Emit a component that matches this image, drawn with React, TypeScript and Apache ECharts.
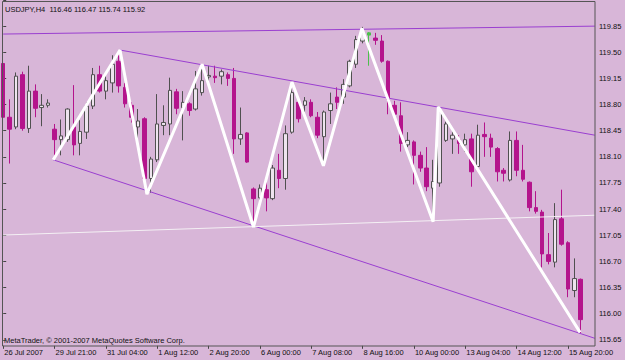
import React, { useEffect, useRef } from 'react';
import * as echarts from 'echarts';

const symbol = 'USDJPY';
const period = 'H4';
const copyright = 'MetaTrader, © 2001-2007 MetaQuotes Software Corp.';
const tickLabels = ['26 Jul 2007', '29 Jul 21:00', '31 Jul 04:00', '1 Aug 12:00', '2 Aug 20:00', '6 Aug 00:00', '7 Aug 08:00', '8 Aug 16:00', '10 Aug 00:00', '13 Aug 04:00', '14 Aug 12:00', '15 Aug 20:00'];
const barsPerLabel = 8;
const emptySlots = 2;

const opens = [119.35, 118.63, 118.50, 119.20, 118.48, 118.98, 118.76, 118.79, 118.47, 118.33, 118.33, 118.50, 118.28, 118.43, 118.78, 119.20, 118.98, 119.09, 119.38, 119.03, 118.79, 118.50, 118.61, 117.81, 118.06, 118.52, 118.54, 118.97, 118.76, 118.81, 118.74, 118.96, 119.17, 119.18, 119.18, 119.20, 119.15, 118.34, 118.42, 117.67, 117.55, 117.66, 117.54, 117.92, 117.81, 118.43, 118.83, 118.79, 118.83, 118.63, 118.37, 118.72, 118.90, 118.90, 119.05, 119.34, 119.65, 119.76, 119.69, 119.65, 119.38, 118.79, 118.65, 118.26, 118.30, 118.12, 117.95, 117.68, 117.75, 118.32, 118.34, 118.33, 118.26, 118.34, 117.97, 118.40, 118.35, 118.21, 117.92, 117.79, 118.32, 117.92, 117.76, 117.42, 117.36, 116.79, 116.69, 117.27, 116.95, 116.31, 116.46];
const closes = [118.63, 118.47, 119.18, 118.48, 118.98, 118.75, 118.79, 118.82, 118.33, 118.38, 118.74, 118.26, 118.44, 118.78, 119.20, 118.98, 119.12, 119.34, 119.05, 118.81, 118.63, 118.58, 117.81, 118.07, 118.54, 118.56, 118.99, 118.75, 118.83, 118.72, 119.01, 119.12, 119.19, 119.16, 119.24, 119.15, 118.34, 118.40, 118.03, 117.54, 117.68, 117.55, 117.95, 117.81, 118.41, 118.96, 118.61, 118.85, 118.65, 118.39, 118.70, 118.81, 118.83, 119.07, 119.38, 119.67, 119.76, 119.73, 119.66, 119.38, 118.87, 118.67, 118.28, 118.32, 118.12, 117.95, 117.70, 117.77, 118.72, 118.54, 118.39, 118.28, 118.33, 117.90, 118.39, 118.37, 118.23, 117.90, 117.88, 118.32, 117.92, 117.80, 117.42, 117.37, 116.80, 116.70, 117.26, 116.93, 116.33, 116.47, 115.92];
const lows = [118.56, 118.01, 118.47, 118.45, 118.42, 118.63, 118.51, 118.76, 118.06, 118.12, 118.30, 118.12, 118.12, 118.34, 118.74, 118.96, 118.87, 118.96, 118.96, 118.76, 118.56, 118.30, 117.73, 117.62, 118.03, 118.39, 118.39, 118.67, 118.32, 118.65, 118.72, 118.92, 119.09, 119.09, 119.07, 119.05, 118.14, 118.26, 118.02, 117.16, 117.50, 117.37, 117.52, 117.68, 117.66, 118.41, 118.56, 118.70, 118.63, 118.35, 117.98, 118.54, 118.74, 118.81, 119.03, 119.29, 119.62, 119.32, 119.60, 119.36, 118.67, 118.63, 118.17, 118.23, 117.73, 117.90, 117.64, 117.24, 117.70, 118.30, 118.14, 118.14, 118.17, 117.70, 117.93, 118.10, 118.10, 117.77, 117.77, 117.77, 117.84, 117.77, 117.37, 117.34, 116.62, 116.66, 116.62, 116.91, 116.22, 116.22, 115.74];
const highs = [119.40, 118.87, 119.23, 119.24, 119.32, 119.07, 118.94, 118.87, 118.54, 118.60, 118.75, 119.06, 118.59, 118.83, 119.29, 119.32, 119.18, 119.46, 119.52, 119.09, 118.83, 118.74, 118.63, 118.10, 118.94, 118.79, 119.16, 119.01, 118.98, 118.83, 119.25, 119.33, 119.32, 119.32, 119.27, 119.23, 119.29, 118.76, 118.43, 117.69, 117.73, 117.77, 117.99, 118.14, 118.52, 119.10, 118.90, 118.90, 118.87, 118.70, 118.72, 118.96, 119.03, 119.14, 119.40, 119.72, 119.84, 119.77, 119.76, 119.73, 119.39, 118.85, 118.83, 118.43, 118.32, 118.17, 118.23, 118.06, 118.78, 118.57, 118.48, 118.39, 118.41, 118.41, 118.53, 118.56, 118.41, 118.23, 117.95, 118.44, 118.44, 118.26, 117.77, 117.64, 117.39, 117.08, 117.48, 117.66, 116.97, 116.74, 116.47];
const highlightedBar = 57;

// price axis
const priceMin = 115.65;
const priceStep = 0.35;
const priceMax = 120.2;

// zig-zag (bar position, price)
const zigzagBars = [7.8, 18.2, 22.4, 31.0, 39.0, 45.0, 49.9, 55.9, 67.0, 67.8, 89.9];
const zigzagPrices = [118.06, 119.53, 117.60, 119.34, 117.16, 119.10, 117.98, 119.82, 117.23, 118.77, 115.75];
// trend lines: [startBar, startPrice, endBar, endPrice]
const topLine = [0.0, 119.744, 92.2, 119.85];
const upperChannel = [18.2, 119.53, 92.2, 118.39];
const lowerChannel = [7.8, 118.06, 92.2, 115.67];
const supportLine = [0.0, 117.053, 92.2, 117.318];

const FONT = "'Liberation Sans', Arial, sans-serif";
const FS = 7.5;

export default function App() {
  const ref = useRef<HTMLDivElement>(null);
  useEffect(() => {
    if (!ref.current) return;
    const chart = echarts.init(ref.current, undefined, { renderer: 'svg' });
    const nBars = opens.length;
    const nSlots = nBars + emptySlots;
    const categories = Array.from({ length: nSlots }, (_, i) =>
      i % barsPerLabel === 0 && i / barsPerLabel < tickLabels.length ? tickLabels[i / barsPerLabel] : 'b' + i
    );
    const candleData = opens.map((o, i) => {
      const v = [o, closes[i], lows[i], highs[i]];
      if (i === highlightedBar) {
        return { value: v, itemStyle: { color: '#4CC04C', color0: '#4CC04C', borderColor: '#4CC04C', borderColor0: '#4CC04C' } };
      }
      return v;
    });
    const last = nBars - 1;
    const title = `${symbol},${period}  ${opens[last].toFixed(2)} ${highs[last].toFixed(2)} ${lows[last].toFixed(2)} ${closes[last].toFixed(2)}`;
    const seg = (a: number[]) => [[a[0], a[1]], [a[2], a[3]]];
    const lineSeries = (data: number[][], color: string, width: number) => ({
      type: 'line',
      xAxisIndex: 1,
      yAxisIndex: 0,
      data,
      symbol: 'none',
      lineStyle: { color, width },
      silent: true,
      z: 4,
    });
    const purple = '#9A3FD0';
    chart.setOption({
      animation: false,
      backgroundColor: '#D8B6D8',
      grid: { left: -0.31, right: 28.25, top: -3.4, bottom: 20.2, containLabel: false },
      xAxis: [
        {
          type: 'category',
          data: categories,
          boundaryGap: true,
          position: 'bottom',
          offset: 6,
          axisLine: { show: false },
          axisTick: { show: true, interval: barsPerLabel - 1, alignWithLabel: true, length: 3, lineStyle: { color: '#444' } },
          axisLabel: {
            interval: barsPerLabel - 1,
            align: 'left',
            margin: 3,
            fontSize: FS,
            fontFamily: FONT,
            color: '#111',
            padding: [0, 0, 0, 1],
            formatter: (v: string, i: number) => (i % barsPerLabel === 0 && i / barsPerLabel < tickLabels.length ? tickLabels[i / barsPerLabel] : ''),
          },
          splitLine: { show: false },
        },
        { type: 'value', min: -0.5, max: nSlots - 0.5, show: false },
      ],
      yAxis: {
        type: 'value',
        position: 'right',
        offset: -1.75,
        min: priceMin,
        max: priceMax,
        interval: priceStep,
        axisLine: { show: false },
        axisTick: { show: true, length: 3, lineStyle: { color: '#444' } },
        axisLabel: {
          margin: 4,
          fontSize: FS,
          fontFamily: FONT,
          color: '#111',
          formatter: (v: number) => (v > priceMax - priceStep / 2 ? '' : v.toFixed(2)),
        },
        splitLine: { show: false },
      },
      graphic: [
        { type: 'text', left: 5, top: 5, style: { text: title, font: `${FS}px ${FONT}`, fill: '#111' }, silent: true },
        { type: 'text', left: 4, top: 336, style: { text: copyright, font: `${FS}px ${FONT}`, fill: '#111' }, silent: true },
        { type: 'rect', shape: { x: 2.5, y: 1.5, width: 592.5, height: 344.5 }, style: { fill: 'none', stroke: '#555555', lineWidth: 1 }, silent: true, z: 100 },
      ],
      series: [
        {
          type: 'candlestick',
          xAxisIndex: 0,
          yAxisIndex: 0,
          data: candleData,
          barWidth: 4,
          itemStyle: { color: '#EEE4EE', color0: '#B4148C', borderColor: '#505050', borderColor0: '#B4148C', borderWidth: 1 },
          z: 3,
          markLine: {
            silent: true,
            symbol: ['none', 'none'],
            lineStyle: { opacity: 0 },
            data: [{ yAxis: closes[last] }],
            label: {
              show: true,
              position: 'end',
              distance: 0,
              formatter: closes[last].toFixed(2),
              backgroundColor: '#3B4A26',
              color: '#ECECD8',
              fontSize: FS + 0.5,
              fontFamily: FONT,
              padding: [1, 2, 1, 2],
            },
          },
        },
        lineSeries(seg(topLine), purple, 1),
        lineSeries(seg(upperChannel), purple, 1),
        lineSeries(seg(lowerChannel), purple, 1),
        lineSeries(seg(supportLine), '#F4F0F4', 1),
        lineSeries(zigzagBars.map((b, i) => [b, zigzagPrices[i]]), '#FFFFFF', 3),
      ],
    });
    return () => chart.dispose();
  }, []);
  return <div ref={ref} style={{ position: 'fixed', left: 0, top: 0, width: 625, height: 360 }} />;
}
